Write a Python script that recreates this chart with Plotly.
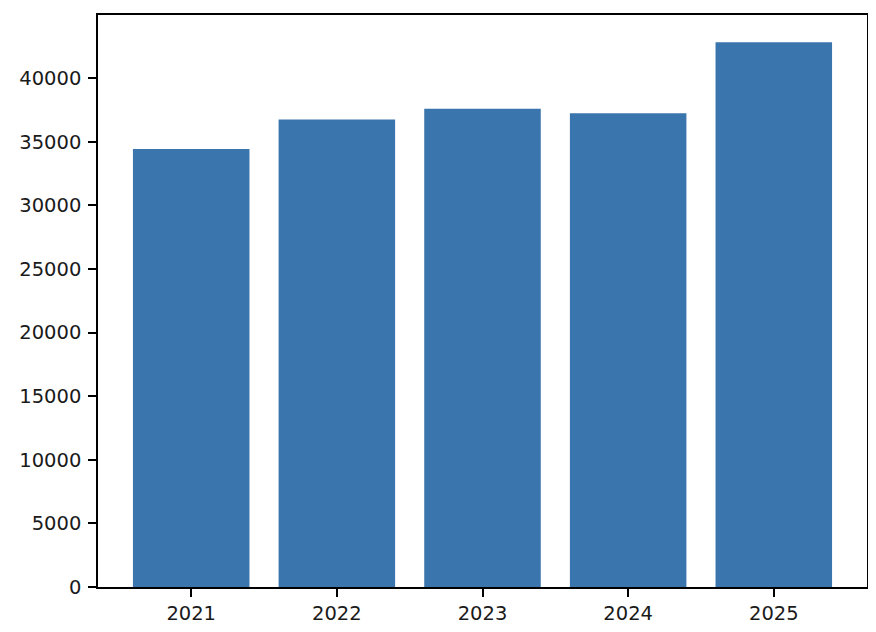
import plotly.graph_objects as go

years = ["2021", "2022", "2023", "2024", "2025"]
values = [34430, 36740, 37600, 37230, 42820]

fig = go.Figure()

fig.add_trace(go.Bar(
    x=list(range(len(years))),
    y=values,
    width=0.8,
    marker=dict(color='#3a75ae', line=dict(width=0)),
    showlegend=False
))

# page body has an 8px margin, so the figure is sized to sit inside it
axis_style = dict(
    ticks='outside',
    ticklen=8,
    tickwidth=1.5,
    tickcolor='black',
    showline=True,
    linecolor='black',
    linewidth=1.5,
    mirror=True,
    showgrid=False,
    zeroline=False,
    automargin=False
)

fig.update_layout(
    width=860,
    height=616,
    margin=dict(l=90, r=1.3, t=7, b=37.3),
    plot_bgcolor='white',
    paper_bgcolor='white',
    font=dict(family='DejaVu Sans', size=19.5, color='#1a1a1a'),
    xaxis=dict(
        range=[-0.64, 4.64],
        tickmode='array',
        tickvals=list(range(len(years))),
        ticktext=years,
        ticklabelstandoff=0,
        **axis_style
    ),
    yaxis=dict(
        range=[0, max(values) * 1.05],
        tickmode='linear',
        tick0=0,
        dtick=5000,
        tickformat='d',
        ticklabelstandoff=3,
        **axis_style
    )
)

fig.write_html("out.html")
